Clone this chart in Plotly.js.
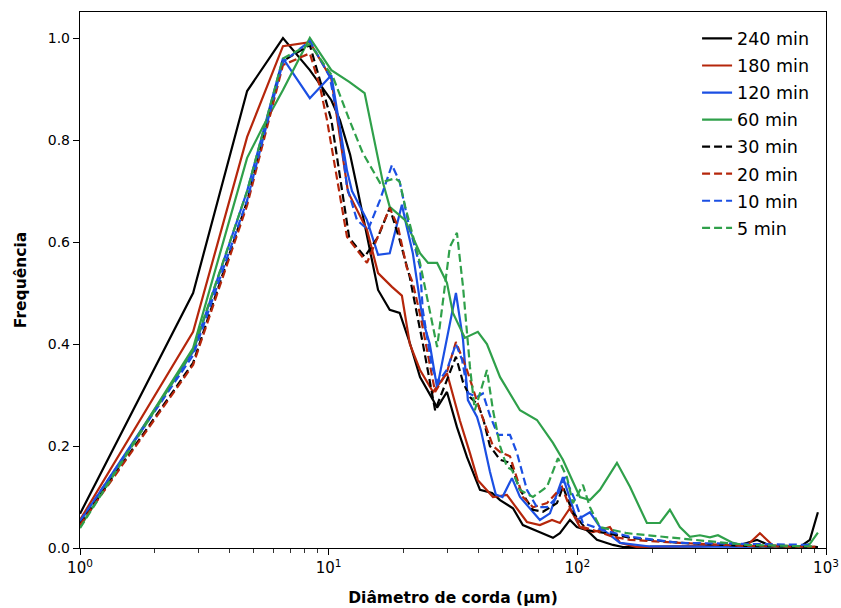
<!DOCTYPE html>
<html>
<head>
<meta charset="utf-8">
<script src="https://cdn.plot.ly/plotly-3.0.1.min.js"></script>
<style>html,body{margin:0;padding:0;background:#fff;}#chart{width:841px;height:608px;}</style>
</head>
<body>
<div id="chart"></div>
<script>
// ---- data ----
const seriesNames = ["240 min","180 min","120 min","60 min","30 min","20 min","10 min","5 min"];

const x240 = [1, 2.85, 4.7, 6.55, 8.4, 10.25, 11.1, 12.2, 13.0, 14.26, 15.8, 17.6, 19.3, 21.2, 23.3, 26.3, 27.3, 29.9, 32.8, 36.0, 38.7, 40.6, 45.4, 48.9, 55.1, 60.4, 70.7, 79.8, 85.1, 93.4, 99.6, 109.3, 119.9, 139.1, 152.5, 311, 450.7, 527.6, 600, 785.6, 861.5, 927.7];
const y240 = [0.067, 0.50, 0.896, 1.0, 0.937, 0.878, 0.839, 0.771, 0.708, 0.61, 0.506, 0.467, 0.461, 0.402, 0.335, 0.29, 0.275, 0.306, 0.237, 0.178, 0.139, 0.114, 0.108, 0.094, 0.078, 0.045, 0.031, 0.02, 0.029, 0.055, 0.041, 0.035, 0.016, 0.006, 0.002, 0.003, 0.006, 0.016, 0.004, 0.002, 0.016, 0.07];

const x180 = [1, 2.85, 4.7, 6.55, 8.4, 10.25, 11.96, 14.26, 15.8, 17.97, 19.7, 21.2, 23.3, 26.3, 29.9, 33.7, 37.0, 39.8, 45.8, 52.1, 55.1, 62.7, 70.7, 79.1, 85.1, 93.4, 102.4, 115.5, 135.2, 148.4, 173.6, 480.8, 542.3, 611.6, 927.7];
const y180 = [0.055, 0.424, 0.806, 0.984, 0.992, 0.92, 0.698, 0.624, 0.539, 0.512, 0.495, 0.40, 0.349, 0.306, 0.343, 0.25, 0.186, 0.133, 0.10, 0.104, 0.088, 0.051, 0.045, 0.055, 0.049, 0.078, 0.041, 0.031, 0.041, 0.01, 0.002, 0.005, 0.029, 0.005, 0.002];

const x120 = [1, 2.85, 4.7, 6.55, 8.4, 10.25, 11.85, 12.41, 14.26, 15.8, 17.6, 19.7, 20.6, 21.8, 23.9, 25.5, 27.3, 32.5, 34.7, 36.3, 39.5, 41, 44.5, 47, 50, 54.6, 58.8, 70.7, 77.6, 85.1, 87.5, 99.6, 112.4, 123.3, 148.4, 195.8, 927.7];
const y120 = [0.051, 0.385, 0.70, 0.96, 0.882, 0.927, 0.74, 0.70, 0.643, 0.575, 0.578, 0.673, 0.63, 0.578, 0.447, 0.40, 0.314, 0.50, 0.408, 0.29, 0.257, 0.23, 0.15, 0.105, 0.10, 0.137, 0.10, 0.055, 0.068, 0.12, 0.139, 0.055, 0.07, 0.041, 0.01, 0.003, 0.002];

const x60 = [1, 2.85, 4.7, 5.44, 6.55, 8.4, 10.25, 12.1, 13.95, 14.66, 15.64, 16.54, 17.6, 20.3, 23.3, 25.1, 27.3, 29.9, 31.6, 35.3, 39.8, 43.3, 48.9, 58.8, 68.8, 79.8, 87.5, 102.4, 112.4, 123.3, 144.3, 162.8, 190.4, 214.8, 235.6, 258.5, 283.6, 311.1, 341.4, 367.7, 422.6, 480.8, 785.6, 861.5, 927.7];
const y60 = [0.041, 0.392, 0.765, 0.826, 0.898, 1.0, 0.937, 0.914, 0.892, 0.839, 0.775, 0.716, 0.669, 0.643, 0.578, 0.559, 0.559, 0.52, 0.461, 0.412, 0.424, 0.40, 0.335, 0.27, 0.251, 0.206, 0.173, 0.10, 0.094, 0.114, 0.167, 0.12, 0.049, 0.049, 0.075, 0.041, 0.022, 0.025, 0.021, 0.025, 0.01, 0.004, 0.002, 0.008, 0.03];

const x30 = [1, 2.85, 4.7, 6.55, 8.4, 10.25, 12.1, 13.95, 15.8, 17.6, 19.3, 21.2, 22.6, 23.9, 26.8, 29.9, 32.5, 34.7, 37.0, 40.0, 42.0, 44.5, 48.9, 53.6, 58.8, 66.3, 72.7, 82.8, 87.5, 96.0, 109.3, 131.5, 162.8, 258.5, 480.8, 927.7];
const y30 = [0.047, 0.363, 0.68, 0.955, 0.986, 0.84, 0.608, 0.571, 0.61, 0.667, 0.604, 0.531, 0.461, 0.402, 0.27, 0.329, 0.375, 0.325, 0.296, 0.28, 0.25, 0.20, 0.173, 0.167, 0.114, 0.075, 0.071, 0.088, 0.12, 0.069, 0.035, 0.029, 0.02, 0.01, 0.004, 0.002];

const x20 = [1, 2.85, 4.7, 6.55, 8.4, 9.23, 9.84, 11.85, 14.26, 17.6, 19.0, 20.6, 21.8, 23.5, 26.8, 29.9, 32.5, 36.0, 40.6, 45.8, 48.9, 53.6, 60.4, 66.3, 75.5, 86.7, 95.1, 105.3, 123.3, 139.1, 162.8, 258.5, 480.8, 927.7];
const y20 = [0.045, 0.359, 0.672, 0.947, 0.97, 0.904, 0.84, 0.61, 0.559, 0.667, 0.63, 0.55, 0.52, 0.45, 0.306, 0.345, 0.404, 0.349, 0.27, 0.20, 0.188, 0.18, 0.10, 0.08, 0.088, 0.12, 0.069, 0.041, 0.031, 0.022, 0.016, 0.01, 0.004, 0.002];

const x10 = [1, 2.85, 4.7, 6.55, 8.4, 10.1, 11.1, 11.85, 13.0, 14.39, 16.08, 17.97, 19.3, 20.8, 23.3, 23.9, 26.0, 27.5, 29.9, 32.5, 34.4, 36.3, 39.5, 41.7, 44.5, 47.9, 53.6, 57.2, 62.7, 68.8, 75.5, 82.8, 89.2, 97.8, 105.3, 126.8, 162.8, 258.5, 885.8];
const y10 = [0.053, 0.378, 0.682, 0.953, 0.994, 0.924, 0.82, 0.708, 0.643, 0.624, 0.682, 0.751, 0.718, 0.643, 0.551, 0.467, 0.355, 0.324, 0.35, 0.40, 0.369, 0.304, 0.296, 0.303, 0.26, 0.222, 0.222, 0.186, 0.114, 0.08, 0.08, 0.10, 0.139, 0.094, 0.049, 0.035, 0.022, 0.01, 0.006];

const x5 = [1, 2.85, 4.7, 6.55, 8.4, 10.4, 12.1, 13.7, 16.08, 18.5, 19.3, 20.3, 23.3, 27.3, 30.7, 32.8, 34.7, 37.0, 38.7, 43.3, 45.8, 48.9, 52.1, 54.6, 58.8, 66.3, 75.5, 83.6, 90.8, 96.0, 105.3, 112.4, 123.3, 158.2, 220.9, 351, 480.8, 885.8];
const y5 = [0.039, 0.388, 0.70, 0.96, 0.988, 0.924, 0.84, 0.775, 0.716, 0.725, 0.718, 0.67, 0.559, 0.394, 0.59, 0.618, 0.512, 0.355, 0.27, 0.349, 0.27, 0.20, 0.159, 0.153, 0.114, 0.10, 0.12, 0.176, 0.139, 0.088, 0.124, 0.08, 0.041, 0.029, 0.022, 0.012, 0.006, 0.003];

const xTickVals = [1, 10, 100, 1000];
const xTickText = ["10<sup>0</sup>", "10<sup>1</sup>", "10<sup>2</sup>", "10<sup>3</sup>"];
const yTickVals = [0, 0.2, 0.4, 0.6, 0.8, 1.0];

// ---- styles ----
const BLACK = "#000000", RED = "#b5260b", BLUE = "#1b4fe3", GREEN = "#2fa04a";
const xs = [x240, x180, x120, x60, x30, x20, x10, x5];
const ys = [y240, y180, y120, y60, y30, y20, y10, y5];
const colors = [BLACK, RED, BLUE, GREEN, BLACK, RED, BLUE, GREEN];
const dashes = ["solid","solid","solid","solid","8px,4px","8px,4px","8px,4px","8px,4px"];

const traces = seriesNames.map((n, i) => ({
  x: xs[i], y: ys[i], name: n, type: "scatter", mode: "lines",
  legendgroup: "g" + i,
  line: {color: colors[i], width: 2.2, dash: dashes[i]}
}));

const minor = [];
for (let k = 0; k < 3; k++) for (let m = 2; m <= 9; m++) minor.push(m * Math.pow(10, k));

const FAM = "DejaVu Sans, sans-serif";

const layout = {
  width: 841, height: 608,
  margin: {l: 80, r: 15, t: 12, b: 60},
  paper_bgcolor: "#fff", plot_bgcolor: "#fff",
  font: {family: FAM, size: 13, color: "#000"},
  showlegend: true,
  legend: {x: 0.984, xanchor: "right", y: 0.984, yanchor: "top",
    font: {family: FAM, size: 17.5, color: "#000"},
    bgcolor: "rgba(255,255,255,0)", traceorder: "grouped", tracegroupgap: 1.3},
  xaxis: {type: "log", range: [0, 3], tickvals: xTickVals, ticktext: xTickText,
    ticks: "outside", ticklen: 6, tickwidth: 1, tickcolor: "#000",
    minor: {tickvals: minor, ticks: "outside", ticklen: 3.5, tickwidth: 0.8, tickcolor: "#000", showgrid: false},
    showline: true, linecolor: "#000", linewidth: 1.2, mirror: true, showgrid: false, zeroline: false,
    tickfont: {family: FAM, size: 15, color: "#000"},
    title: {text: "<b>Diâmetro de corda (μm)</b>", font: {family: FAM, size: 15.5, color: "#000"}, standoff: 16}},
  yaxis: {range: [0, 1.051], tickvals: yTickVals, tickformat: ".1f",
    ticks: "outside", ticklen: 6, tickwidth: 1, tickcolor: "#000",
    showline: true, linecolor: "#000", linewidth: 1.2, mirror: true, showgrid: false, zeroline: false,
    tickfont: {family: FAM, size: 14, color: "#000"},
    title: {text: "<b>Frequência</b>", font: {family: FAM, size: 15.5, color: "#000"}, standoff: 17}}
};

Plotly.newPlot("chart", traces, layout, {displayModeBar: false, staticPlot: true});
</script>
</body>
</html>
